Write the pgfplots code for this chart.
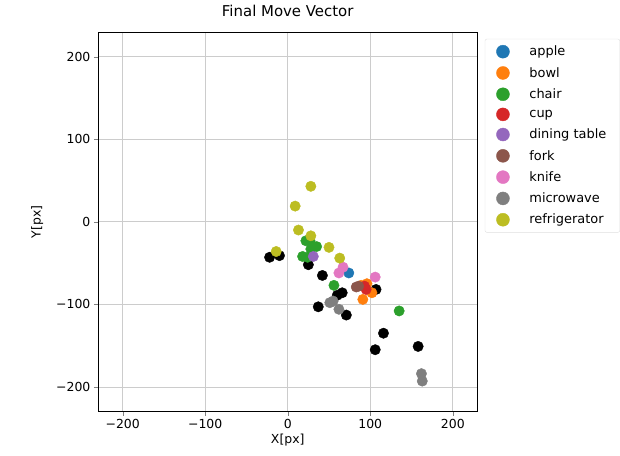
\documentclass[border=0pt]{standalone}
\usepackage{fontspec}
\setmainfont{DejaVu Sans}
\usepackage{pgfplots}
\pgfplotsset{compat=1.18}

\definecolor{tabblue}{HTML}{1F77B4}
\definecolor{taborange}{HTML}{FF7F0E}
\definecolor{tabgreen}{HTML}{2CA02C}
\definecolor{tabred}{HTML}{D62728}
\definecolor{tabpurple}{HTML}{9467BD}
\definecolor{tabbrown}{HTML}{8C564B}
\definecolor{tabpink}{HTML}{E377C2}
\definecolor{tabgray}{HTML}{7F7F7F}
\definecolor{tabolive}{HTML}{BCBD22}

\pgfplotsset{dot/.style={only marks, mark=*, mark size=5.2bp, color=#1}}

\begin{document}
\begin{tikzpicture}
\begin{axis}[
    at={(0,0)}, anchor=south west,
    scale only axis,
    width=380bp, height=380bp,
    xmin=-230, xmax=230, ymin=-230, ymax=230,
    xtick={-200,-100,0,100,200},
    ytick={-200,-100,0,100,200},
    xticklabels={−200,−100,0,100,200},
    yticklabels={−200,−100,0,100,200},
    tick label style={font=\fontsize{12.5}{14}\selectfont},
    tick align=outside,
    tick pos=left,
    major tick length=4bp,
    grid=major,
    grid style={gray!40, line width=0.7pt},
    axis line style={line width=0.7pt},
    xlabel={X[px]}, ylabel={Y[px]},
    label style={font=\fontsize{12.5}{14}\selectfont},
    xlabel style={at={(axis description cs:0.5,-0.076)}, anchor=center},
    ylabel style={at={(axis description cs:-0.16,0.5)}, anchor=center},
    title={Final Move Vector},
    title style={at={(axis description cs:0.5,1.04)}, anchor=center,
        font=\fontsize{15}{17}\selectfont},
    legend style={at={(1.019,0.982)}, anchor=north west,
        draw=gray!25, rounded corners=2pt,
        font=\fontsize{13}{15}\selectfont,
        row sep=6bp, inner xsep=11.5bp, inner ysep=5bp,
        /tikz/every odd column/.append style={column sep=18bp}},
    legend image post style={mark size=6.5bp},
    legend cell align=left,
]
% unlabelled points (drawn first, below the classes)
\addplot[dot=black, forget plot] coordinates {
    (-22,-43) (-10,-41) (25,-52) (42,-65) (60,-89) (66,-86) (37,-103)
    (71,-113) (107,-82) (116,-135) (106,-155) (158,-151)
};
\addplot[dot=tabblue] coordinates {
    (74,-62)
};
\addlegendentry{apple}
\addplot[dot=taborange] coordinates {
    (89,-77) (96,-75) (102,-86) (91,-94)
};
\addlegendentry{bowl}
\addplot[dot=tabgreen] coordinates {
    (22,-23) (27,-23) (35,-30) (28,-33) (18,-42) (24,-43) (56,-77) (135,-108)
};
\addlegendentry{chair}
\addplot[dot=tabred] coordinates {
    (95,-82) (93,-78)
};
\addlegendentry{cup}
\addplot[dot=tabpurple] coordinates {
    (31,-42)
};
\addlegendentry{dining table}
\addplot[dot=tabbrown] coordinates {
    (83,-79) (86,-78)
};
\addlegendentry{fork}
\addplot[dot=tabpink] coordinates {
    (62,-62) (67,-55) (106,-67)
};
\addlegendentry{knife}
\addplot[dot=tabgray] coordinates {
    (51,-98) (55,-96) (62,-106) (162,-184) (163,-193)
};
\addlegendentry{microwave}
\addplot[dot=tabolive] coordinates {
    (28,43) (9,19) (13,-10) (28,-17) (50,-31) (63,-44) (-14,-36)
};
\addlegendentry{refrigerator}
\end{axis}
\path (-98bp,-44bp) rectangle (522bp,412bp);
\end{tikzpicture}
\end{document}
